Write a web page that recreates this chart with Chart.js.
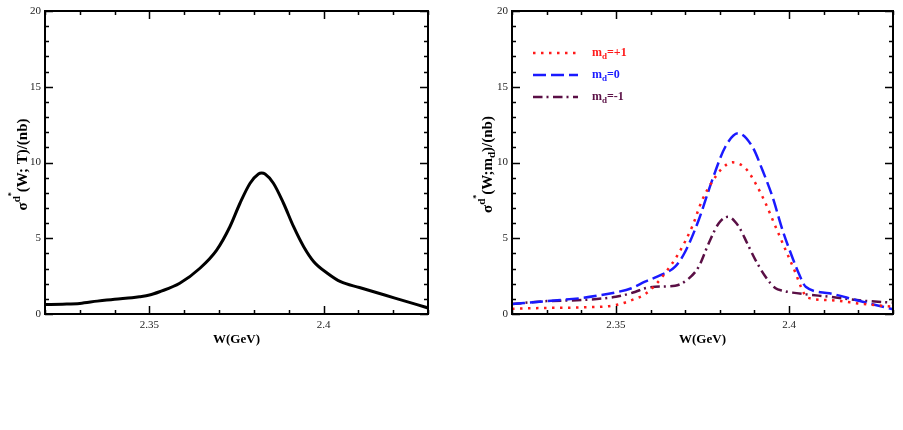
<!DOCTYPE html>
<html>
<head>
<meta charset="utf-8">
<script src="https://cdn.jsdelivr.net/npm/chart.js@4/dist/chart.umd.min.js"></script>
<style>
  html, body { margin: 0; padding: 0; background: #fff; }
  #wrap { position: relative; width: 903px; height: 430px; overflow: hidden; }
  .box { position: absolute; top: 0; height: 430px; }
</style>
</head>
<body>
<div id="wrap">
  <div class="box" style="left:0;width:451px"><canvas id="c1" width="451" height="430"></canvas></div>
  <div class="box" style="left:451px;width:452px"><canvas id="c2" width="452" height="430"></canvas></div>
</div>
<script>
// ---------- data ----------
const xMin = 2.32, xMax = 2.43;
const yMin = 0, yMax = 20;
const xMajorLabels = [2.35, 2.4];
const yMajorLabels = [0, 5, 10, 15, 20];

// left panel: total cross section
const totalW = [2.32, 2.325, 2.33, 2.335, 2.34, 2.345, 2.3471, 2.35, 2.3529, 2.3587, 2.3645, 2.3693, 2.3731, 2.376, 2.3789, 2.3813, 2.3822, 2.3832, 2.3856, 2.3885, 2.3914, 2.3943, 2.3972, 2.4011, 2.4049, 2.4103, 2.4205, 2.43];
const totalS = [0.62, 0.65, 0.70, 0.85, 0.98, 1.08, 1.14, 1.25, 1.47, 2.03, 3.02, 4.22, 5.76, 7.31, 8.63, 9.24, 9.30, 9.24, 8.63, 7.31, 5.76, 4.44, 3.45, 2.69, 2.13, 1.75, 1.05, 0.40];

// right panel: m_d = +1
const mp1W = [2.32, 2.33, 2.34, 2.35, 2.3555, 2.3584, 2.3613, 2.3642, 2.3681, 2.372, 2.3749, 2.3778, 2.3807, 2.3836, 2.3874, 2.3903, 2.3932, 2.3961, 2.399, 2.4019, 2.4034, 2.4053, 2.4116, 2.4213, 2.43];
const mp1S = [0.35, 0.40, 0.44, 0.59, 1.00, 1.30, 1.90, 2.69, 4.00, 5.76, 7.52, 8.73, 9.62, 10.01, 9.62, 8.63, 7.31, 5.76, 4.22, 2.69, 1.80, 1.08, 0.92, 0.66, 0.48];
// right panel: m_d = 0
const m0W = [2.32, 2.33, 2.34, 2.345, 2.35, 2.3545, 2.3584, 2.3632, 2.3671, 2.37, 2.3739, 2.3778, 2.3816, 2.3853, 2.3894, 2.3923, 2.3952, 2.3981, 2.401, 2.403, 2.4048, 2.4116, 2.4193, 2.43];
const m0S = [0.66, 0.85, 1.05, 1.22, 1.43, 1.70, 2.13, 2.60, 3.12, 4.11, 6.20, 8.84, 11.04, 11.93, 11.04, 9.50, 7.74, 5.54, 3.70, 2.57, 1.80, 1.37, 0.92, 0.31];
// right panel: m_d = -1
const mm1W = [2.32, 2.33, 2.34, 2.35, 2.3555, 2.3584, 2.3613, 2.3671, 2.3705, 2.3739, 2.3768, 2.3797, 2.3824, 2.3855, 2.3879, 2.3903, 2.3932, 2.3961, 2.3981, 2.401, 2.4048, 2.4116, 2.4213, 2.43];
const mm1S = [0.66, 0.85, 0.92, 1.14, 1.45, 1.70, 1.80, 1.87, 2.24, 3.12, 4.67, 5.99, 6.42, 5.76, 4.67, 3.56, 2.46, 1.70, 1.54, 1.41, 1.30, 1.14, 0.88, 0.75];

const legendNames = ['+1', '0', '-1'];

// ---------- helpers ----------
const pts = (xs, ys) => xs.map((x, i) => ({ x: x, y: ys[i] }));
const SERIF = '"Liberation Serif", "DejaVu Serif", serif';
const isMajor = (v, list) => list.some(m => Math.abs(m - v) < 1e-6);

// frame + inward ticks on all sides
const framePlugin = {
  id: 'frame',
  afterDatasetsDraw(chart) {
    const { ctx, chartArea: a, scales } = chart;
    ctx.save();
    ctx.strokeStyle = '#000';
    ctx.lineWidth = 1.5;
    ctx.lineCap = 'butt';
    ctx.setLineDash([]);
    ctx.beginPath();
    scales.x.ticks.forEach(t => {
      const px = Math.round(scales.x.getPixelForValue(t.value)) + 0.5;
      const len = isMajor(t.value, xMajorLabels) ? 8 : 4;
      ctx.moveTo(px, a.bottom); ctx.lineTo(px, a.bottom - len);
      ctx.moveTo(px, a.top); ctx.lineTo(px, a.top + len);
    });
    scales.y.ticks.forEach(t => {
      const py = Math.round(scales.y.getPixelForValue(t.value)) + 0.5;
      const len = isMajor(t.value, yMajorLabels) ? 8 : 4;
      ctx.moveTo(a.left, py); ctx.lineTo(a.left + len, py);
      ctx.moveTo(a.right, py); ctx.lineTo(a.right - len, py);
    });
    ctx.stroke();
    ctx.lineWidth = 2;
    ctx.strokeRect(a.left, a.top, a.right - a.left, a.bottom - a.top);
    ctx.restore();
  }
};

// axis titles with super/subscripts
function drawRuns(ctx, runs, x, y, align) {
  // runs: [text, size, dy]
  let total = 0;
  runs.forEach(r => { ctx.font = 'bold ' + r[1] + 'px ' + SERIF; total += ctx.measureText(r[0]).width; });
  let cx = align === 'center' ? x - total / 2 : x;
  runs.forEach(r => {
    ctx.font = 'bold ' + r[1] + 'px ' + SERIF;
    ctx.fillText(r[0], cx, y + r[2]);
    cx += ctx.measureText(r[0]).width;
  });
}

function titlePlugin(yRuns, yTitleX) {
  return {
    id: 'titles',
    afterDraw(chart) {
      const { ctx, chartArea: a } = chart;
      ctx.save();
      ctx.fillStyle = '#000';
      ctx.textBaseline = 'alphabetic';
      drawRuns(ctx, [['W(GeV)', 13, 0]], (a.left + a.right) / 2, a.bottom + 29, 'center');
      ctx.translate(yTitleX, (a.top + a.bottom) / 2 + 2);
      ctx.rotate(-Math.PI / 2);
      drawRuns(ctx, yRuns, 0, 0, 'center');
      ctx.restore();
    }
  };
}

const legendPlugin = {
  id: 'mylegend',
  afterDraw(chart) {
    const { ctx, chartArea: a } = chart;
    ctx.save();
    chart.data.datasets.forEach((ds, i) => {
      const y = a.top + 42 + i * 22;
      ctx.strokeStyle = ds.borderColor;
      ctx.lineWidth = ds.borderWidth;
      ctx.setLineDash(ds.borderDash || []);
      ctx.beginPath();
      ctx.moveTo(a.left + 21, y);
      ctx.lineTo(a.left + 66, y);
      ctx.stroke();
      ctx.fillStyle = ds.borderColor;
      ctx.textBaseline = 'alphabetic';
      drawRuns(ctx, [['m', 12, 0], ['d', 9, 3], ['=' + legendNames[i], 12, 0]], a.left + 80, y + 3, 'left');
    });
    ctx.restore();
  }
};

function makeOptions(yWidth, padRight) {
  return {
    responsive: false,
    animation: false,
    events: [],
    layout: { padding: { left: 0, right: padRight, top: 11, bottom: 86 } },
    plugins: { legend: { display: false }, tooltip: { enabled: false } },
    elements: { point: { radius: 0 } },
    scales: {
      x: {
        type: 'linear', min: xMin, max: xMax,
        grid: { display: false, drawTicks: false },
        border: { display: false },
        afterBuildTicks(scale) {
          const t = [];
          for (let i = 0; i <= 11; i++) t.push({ value: +(xMin + i * 0.01).toFixed(2) });
          scale.ticks = t;
        },
        afterFit(scale) { scale.height = 30; },
        ticks: {
          autoSkip: false, maxRotation: 0, padding: 5,
          color: '#222', font: { family: SERIF, size: 11 },
          callback: v => isMajor(v, xMajorLabels) ? String(+v.toFixed(2)) : ''
        }
      },
      y: {
        type: 'linear', min: yMin, max: yMax,
        grid: { display: false, drawTicks: false },
        border: { display: false },
        afterFit(scale) { scale.width = yWidth; },
        ticks: {
          stepSize: 1, autoSkip: false, padding: 4,
          color: '#222', font: { family: SERIF, size: 11 },
          callback: v => isMajor(v, yMajorLabels) ? String(v) : ''
        }
      }
    }
  };
}

new Chart(document.getElementById('c1'), {
  type: 'line',
  data: {
    datasets: [{
      label: 'total', data: pts(totalW, totalS),
      borderColor: '#000', borderWidth: 3, tension: 0.4, cubicInterpolationMode: 'monotone', fill: false
    }]
  },
  options: makeOptions(45, 23),
  plugins: [framePlugin, titlePlugin([['σ', 15, 0], ['d', 11, -7], ['*', 8, -13], ['(W; T)/(nb)', 15, 0]], 27)]
});

new Chart(document.getElementById('c2'), {
  type: 'line',
  data: {
    datasets: [
      { label: 'm_d=+1', data: pts(mp1W, mp1S), borderColor: '#ff1a1a', borderWidth: 2.5, borderDash: [2.5, 5.5], tension: 0.4, cubicInterpolationMode: 'monotone', fill: false },
      { label: 'm_d=0', data: pts(m0W, m0S), borderColor: '#1a1aff', borderWidth: 2.5, borderDash: [13, 5], tension: 0.4, cubicInterpolationMode: 'monotone', fill: false },
      { label: 'm_d=-1', data: pts(mm1W, mm1S), borderColor: '#5a0f45', borderWidth: 2.5, borderDash: [9.5, 4, 2, 4.5], tension: 0.4, cubicInterpolationMode: 'monotone', fill: false }
    ]
  },
  options: makeOptions(61, 10),
  plugins: [framePlugin, legendPlugin, titlePlugin([['σ', 15, 0], ['d', 11, -7], ['*', 8, -13], ['(W;m', 15, 0], ['d', 11, 3], [')/(nb)', 15, 0]], 41)]
});
</script>
</body>
</html>
